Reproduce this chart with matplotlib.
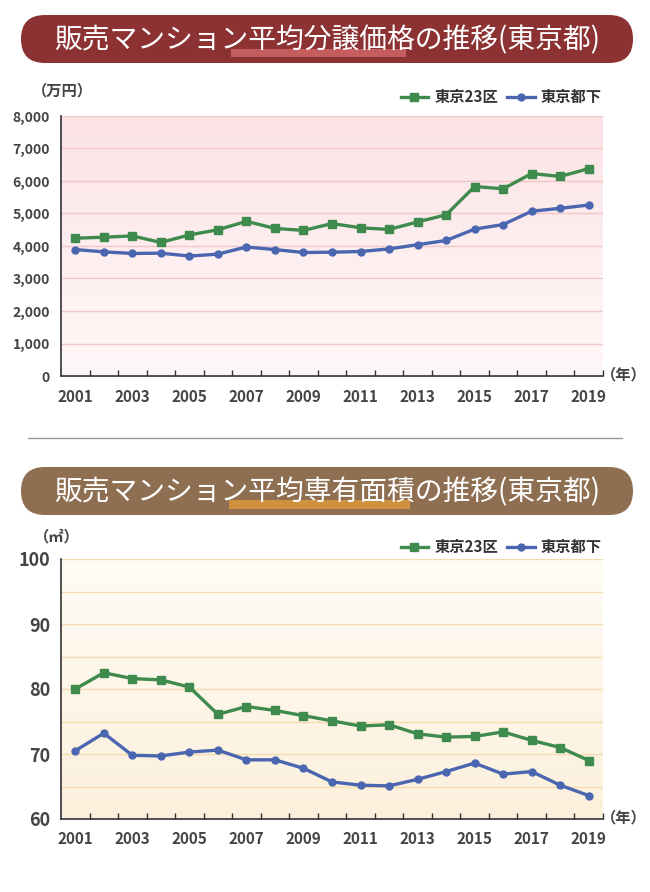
import numpy as np
import matplotlib
matplotlib.use('Agg')
import matplotlib.pyplot as plt
from matplotlib.patches import FancyBboxPatch, Rectangle
from matplotlib.ticker import FixedLocator, FuncFormatter

plt.rcParams['font.family'] = ['Noto Sans CJK JP', 'DejaVu Sans']

# --- データ ---
years = list(range(2001, 2020))
price_23ku = [4240, 4270, 4310, 4110, 4340, 4500, 4760, 4540, 4480, 4690,
              4560, 4510, 4740, 4960, 5830, 5760, 6230, 6140, 6380]
price_tokai = [3890, 3820, 3770, 3780, 3690, 3750, 3970, 3890, 3800, 3810,
               3830, 3910, 4040, 4170, 4520, 4660, 5070, 5160, 5260]
area_23ku = [80.0, 82.5, 81.6, 81.4, 80.3, 76.1, 77.3, 76.7, 75.9, 75.1,
             74.3, 74.5, 73.1, 72.6, 72.7, 73.4, 72.1, 71.0, 69.0]
area_tokai = [70.5, 73.2, 69.8, 69.7, 70.3, 70.6, 69.1, 69.1, 67.8, 65.7,
              65.2, 65.1, 66.1, 67.3, 68.6, 66.9, 67.3, 65.2, 63.6]
labels = ['東京23区', '東京都下']

GREEN = '#3f8a4d'
BLUE = '#4a66b0'
TEXT = '#444444'

fig = plt.figure(figsize=(6.5, 8.92), dpi=100)

# 背景用（ピクセル座標）
bg = fig.add_axes([0, 0, 1, 1])
bg.set_xlim(0, 650)
bg.set_ylim(892, 0)
bg.axis('off')


def banner(y0, y1, color, hl_color, hl_x, hl_y, title):
    h = y1 - y0
    box = FancyBboxPatch((21 + h / 2, y0 + h / 2), 612 - h, 0.01,
                         boxstyle=f"round,pad={h/2}", fc=color, ec='none')
    bg.add_patch(box)
    bg.add_patch(Rectangle((hl_x[0], hl_y[0]), hl_x[1] - hl_x[0], hl_y[1] - hl_y[0],
                           fc=hl_color, ec='none'))
    bg.text(327, (y0 + y1) / 2 + 1, title, color='white', fontsize=20,
            ha='center', va='center')


banner(15, 63, '#8c3233', '#c55c5e', (231, 406), (49, 57),
       '販売マンション平均分譲価格の推移(東京都)')
banner(467, 515, '#8f6f52', '#d0913f', (229, 410), (500, 509),
       '販売マンション平均専有面積の推移(東京都)')
bg.plot([28, 622], [438, 438], color='#999999', lw=1)

# 単位
bg.text(62, 90, '（万円）', ha='center', va='center', fontsize=11,
        fontweight='bold', color=TEXT)
bg.text(57, 536, '（㎡）', ha='center', va='center', fontsize=11,
        fontweight='bold', color=TEXT)
bg.text(624, 374, '（年）', ha='center', va='center', fontsize=11,
        fontweight='bold', color=TEXT)
bg.text(624, 817, '（年）', ha='center', va='center', fontsize=11,
        fontweight='bold', color=TEXT)


def gradient(ax, top, bottom):
    c0 = np.array(matplotlib.colors.to_rgb(top))
    c1 = np.array(matplotlib.colors.to_rgb(bottom))
    t = np.linspace(0, 1, 256)[:, None]
    img = (c0 * (1 - t) + c1 * t)[:, None, :]
    ax.imshow(img, extent=(0, 1, 0, 1), transform=ax.transAxes,
              aspect='auto', zorder=0)


def make_chart(rect, s1, s2, ylim, ystep, grid_color, bg_top, bg_bot,
               ylabel_fs, fmt, leg_y):
    ax = fig.add_axes(rect)
    gradient(ax, bg_top, bg_bot)
    x = np.arange(len(years))
    for v in np.arange(ylim[0] + ystep, ylim[1] + ystep / 2, ystep):
        ax.axhline(v, color=grid_color, lw=1, zorder=1)
    ax.plot(x, s1, color=GREEN, lw=2.4, marker='s', ms=5.5, label=labels[0], zorder=3)
    ax.plot(x, s2, color=BLUE, lw=2.4, marker='o', ms=5, label=labels[1], zorder=3)
    ax.set_xlim(-0.5, 18.5)
    ax.set_ylim(*ylim)
    for s in ['top', 'right']:
        ax.spines[s].set_visible(False)
    for s in ['left', 'bottom']:
        ax.spines[s].set_color('#333333')
        ax.spines[s].set_linewidth(1.2)
        ax.spines[s].set_zorder(4)
    ax.xaxis.set_major_locator(FixedLocator(x[::2]))
    ax.set_xticklabels([str(y) for y in years[::2]])
    ax.xaxis.set_minor_locator(FixedLocator(np.arange(0.5, 19, 1)))
    ax.tick_params(axis='x', which='major', length=0, pad=9,
                   labelsize=11, labelcolor=TEXT)
    ax.tick_params(axis='x', which='minor', direction='in', length=4,
                   width=1, color='#333333')
    ax.yaxis.set_major_locator(FixedLocator(np.arange(ylim[0], ylim[1] + 1, ystep if fmt else ystep * 2)))
    if fmt:
        ax.yaxis.set_major_formatter(FuncFormatter(lambda v, p: f'{int(v):,}'))
    ax.tick_params(axis='y', length=0, pad=8, labelsize=ylabel_fs, labelcolor=TEXT)
    for t in ax.get_xticklabels() + ax.get_yticklabels():
        t.set_fontweight('bold')
    leg = ax.legend(loc='center right', bbox_to_anchor=(1.0 + 5 / 542, leg_y), ncol=2,
                    frameon=False, fontsize=11, handlelength=1.8,
                    columnspacing=0.6, handletextpad=0.4, borderaxespad=0.0)
    for t in leg.get_texts():
        t.set_color('#333333')
        t.set_fontweight('bold')
    return ax


make_chart([61 / 650, 1 - 376 / 892, 542 / 650, 260 / 892],
           price_23ku, price_tokai, (0, 8000), 1000, '#f2c6c8',
           '#fce3e5', '#fff8f8', 10, True, 1 + 19 / 260)
make_chart([61 / 650, 1 - 819 / 892, 542 / 650, 260 / 892],
           area_23ku, area_tokai, (60, 100), 5, '#f5dcaf',
           '#fffcf6', '#fcf0dc', 13, False, 1 + 12 / 260)

fig.savefig('out.png', dpi=100)
